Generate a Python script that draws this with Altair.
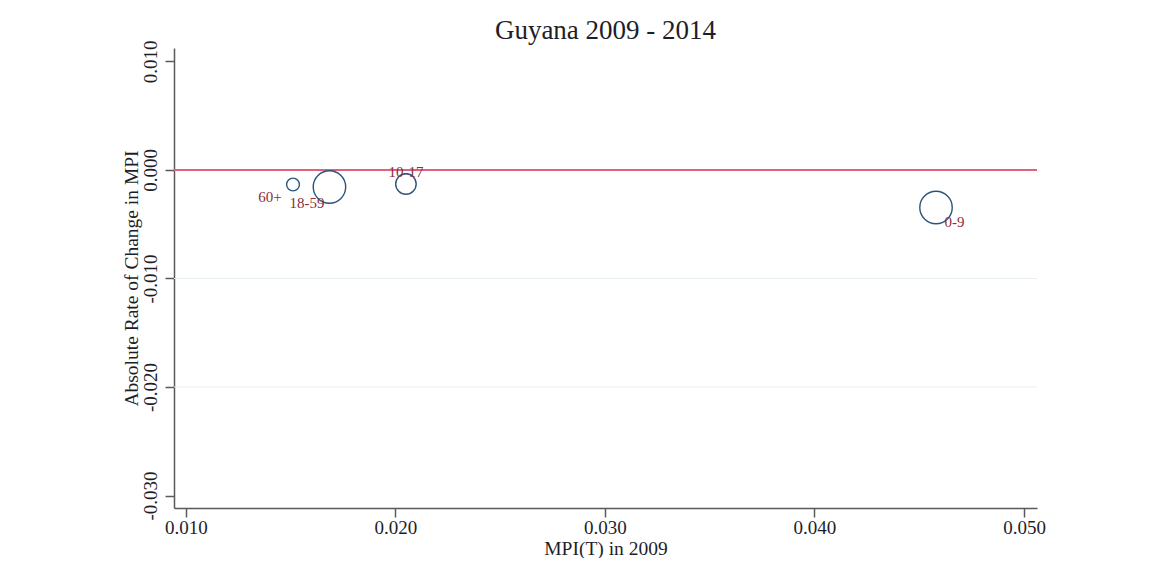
import altair as alt
import pandas as pd

# ---- data ----
groups = ["60+", "18-59", "10-17", "0-9"]
mpi_2009 = [0.01511, 0.01685, 0.02050, 0.04580]
abs_change = [-0.00134, -0.00157, -0.00129, -0.00346]
weight = [6.1, 39.2, 15.6, 39.2]
x_ticks = [0.010, 0.020, 0.030, 0.040, 0.050]
y_ticks = [-0.030, -0.020, -0.010, 0.000, 0.010]
grid_lines = [-0.020, -0.010]
ref_line = [0.0]

df = pd.DataFrame({"group": groups, "mpi": mpi_2009, "chg": abs_change, "w": weight})
grid_df = pd.DataFrame({"y": grid_lines})
ref_df = pd.DataFrame({"y": ref_line})

FONT = "Liberation Serif"
AXC = "#5a5a5a"
TXT = "#1e1e28"
lab_expr = "replace(format(datum.value, '.3f'), '\u2212', '-')"

xscale = alt.Scale(domain=[0.00943, 0.05062], nice=False, zero=False)
yscale = alt.Scale(domain=[-0.03115, 0.01124], nice=False, zero=False)

xaxis = alt.Axis(values=x_ticks, labelExpr=lab_expr, title="MPI(T) in 2009",
                 grid=False, tickSize=9, tickWidth=1.5, domainWidth=1.5,
                 domainColor=AXC, tickColor=AXC, labelFont=FONT, labelFontSize=19,
                 labelColor=TXT, labelPadding=1, titleFont=FONT, titleFontSize=19.5,
                 titleFontWeight="normal", titleColor=TXT, titlePadding=2,
                 labelOverlap=False)
yaxis = alt.Axis(values=y_ticks, labelExpr=lab_expr, title="Absolute Rate of Change in MPI",
                 grid=False, tickSize=9, tickWidth=1.5, domainWidth=1.5,
                 domainColor=AXC, tickColor=AXC, labelFont=FONT, labelFontSize=19,
                 labelColor=TXT, labelAngle=270, labelAlign="center",
                 labelBaseline="bottom", labelPadding=5, titleFont=FONT, titleFontSize=19.5,
                 titleFontWeight="normal", titleColor=TXT, titlePadding=0,
                 labelOverlap=False)

grid = alt.Chart(grid_df).mark_rule(color="#e8eff2", strokeWidth=1).encode(
    y=alt.Y("y:Q", scale=yscale, axis=yaxis)
)

ref = alt.Chart(ref_df).mark_rule(color="#e0607e", strokeWidth=2).encode(
    y=alt.Y("y:Q", scale=yscale)
)

circles = alt.Chart(df).mark_point(shape="circle", filled=False, color="#2a5479",
                                   strokeWidth=1.4, opacity=1).encode(
    x=alt.X("mpi:Q", scale=xscale, axis=xaxis),
    y=alt.Y("chg:Q", scale=yscale),
    size=alt.Size("w:Q", scale=alt.Scale(domain=[0, 39.2], range=[0, 1052]), legend=None),
)

label_offsets = {"60+": (-23, 12.5), "18-59": (-22.5, 15.7), "10-17": (0, -12.3), "0-9": (18.5, 14.2)}
labels = []
for g in groups:
    dx, dy = label_offsets[g]
    labels.append(
        alt.Chart(df).transform_filter(alt.datum.group == g).mark_text(
            font=FONT, fontSize=15, color="#8c2d3a", align="center", baseline="middle",
            dx=dx, dy=dy
        ).encode(
            x=alt.X("mpi:Q", scale=xscale),
            y=alt.Y("chg:Q", scale=yscale),
            text="group:N",
        )
    )

chart = alt.layer(grid, ref, circles, *labels).properties(
    width=863, height=460,
    title=alt.TitleParams("Guyana 2009 - 2014", font=FONT, fontSize=27, fontWeight="normal",
                          anchor="middle", color=TXT, offset=5, dy=10),
    autosize=alt.AutoSizeParams(type="none"),
    padding={"left": 166, "top": 40, "right": 20, "bottom": 50},
    background="white",
).configure_view(strokeWidth=0, stroke="transparent")

chart.save("out.html", embed_options={"renderer": "svg", "actions": False})
